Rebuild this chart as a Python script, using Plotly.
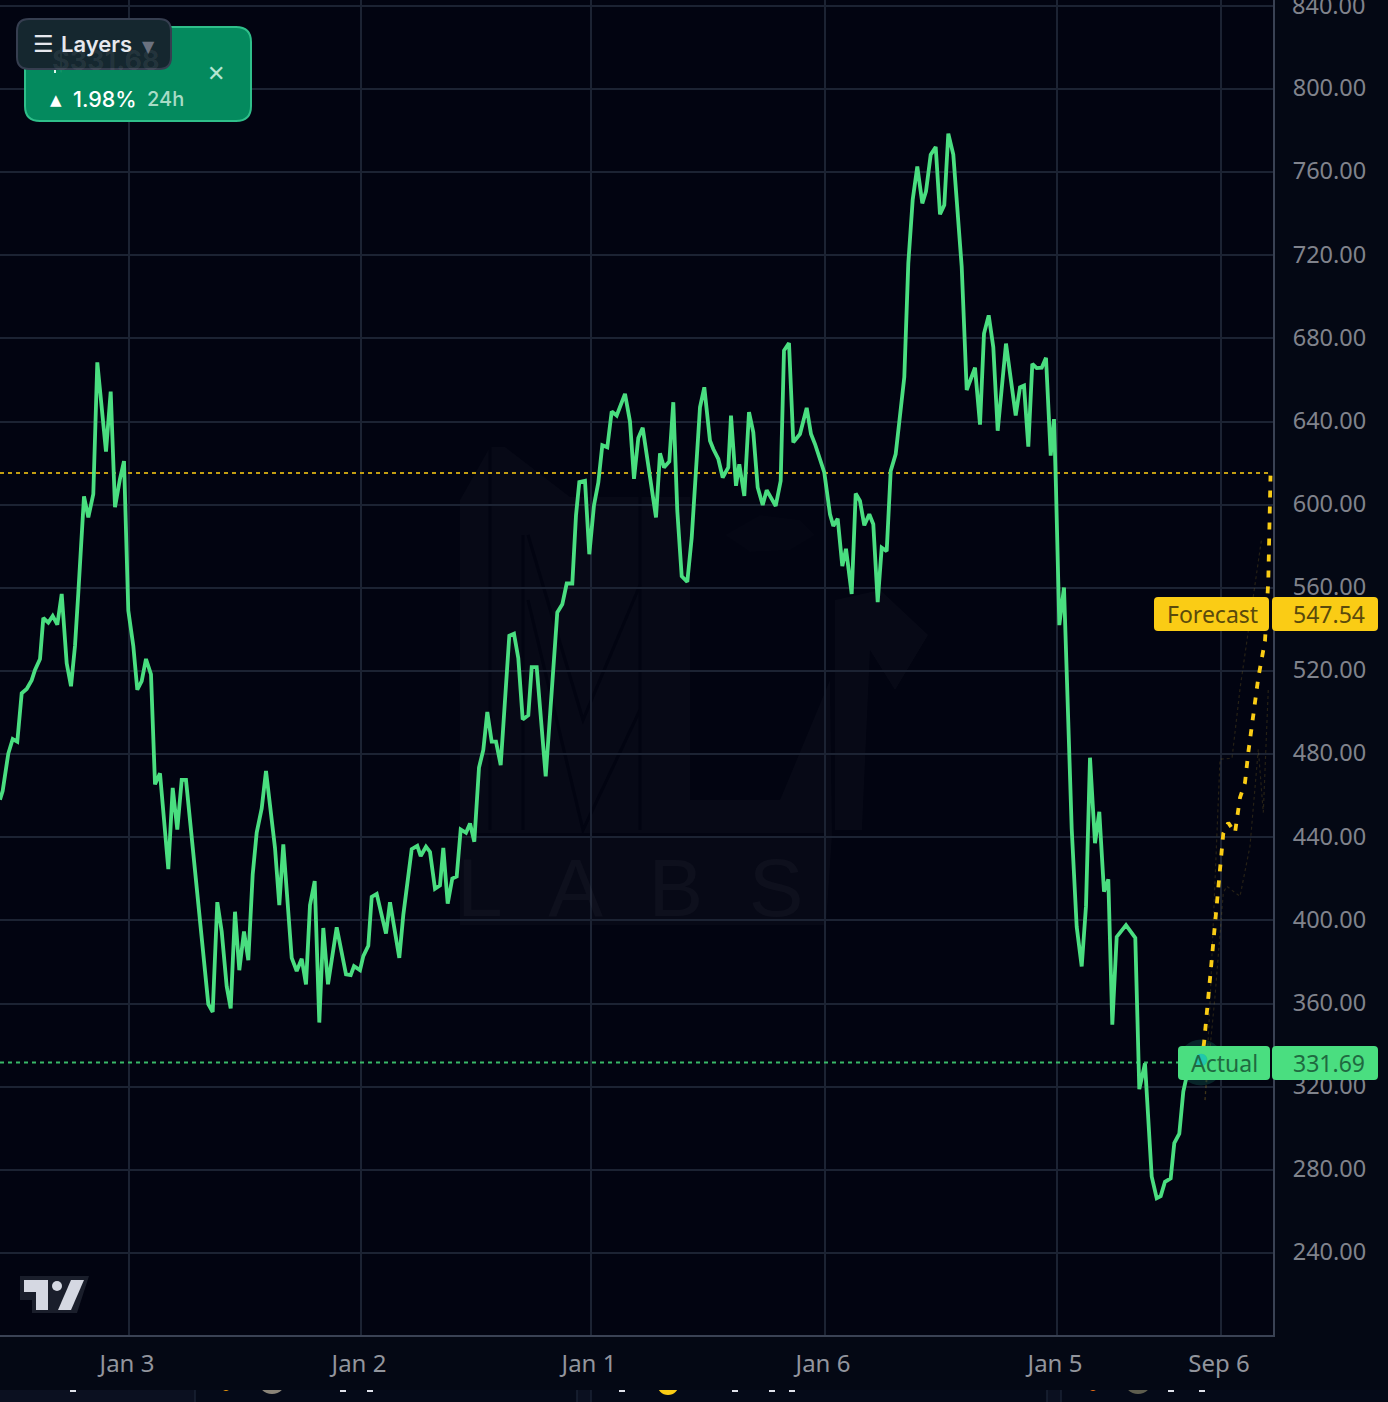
"""Forecast vs actual price chart, dark terminal style."""
import plotly.graph_objects as go

# bar position on the time axis, price at that bar
price_x = [
    0, 2.7, 8.3, 12.7, 17.3, 21.7, 26.7, 31.7, 35, 40, 43.3, 48.3, 52.7, 57.3, 61.7, 66.7, 71, 75, 78.3, 84,
    88.3, 93.3, 97.3, 101.7, 106, 110.7, 115, 120, 124, 128.3, 133.3, 137.3, 141.7, 146, 151, 155, 160, 168.3,
    172.7, 177.3, 181.7, 186, 200, 208.3, 212.7, 217.3, 221.7, 226.7, 230.7, 235, 239.3, 244, 248.3, 252.7,
    256.7, 261.7, 266, 275, 279.3, 283.3, 291.7, 296.7, 301.7, 306, 310, 314.7, 319.3, 323.3, 328,
    336.7, 346, 350.7, 354, 360, 363.3, 368.3, 371.7, 376.7, 386, 390, 399.3, 403.3, 411.7, 417.3, 420.7, 426,
    430, 435, 440, 443.3, 447.7, 452.3, 456.7, 460.7, 466, 470, 474.3, 479, 483.3, 487.3, 491.7, 496, 500.7,
    509.3, 514, 518.3, 522.7, 528.3, 531.7, 536.7, 545.7, 548.3, 557.3, 562.3, 566.7, 572.3, 576, 579.3, 585,
    589.3, 594, 598.3, 602.3, 607.3, 611.7, 616.7, 625, 630, 634, 638.3, 642.7, 656, 660,
    664, 669.3, 673.3, 677.3, 681.7, 687.3, 691.7, 700, 704.3, 710, 713.3, 718.3, 722.7, 728.3, 731, 736,
    739.3, 744.3, 749, 753.3, 757.7, 762.7, 766.7, 775.7, 780.7, 784, 789, 793.3, 800, 806.7, 811, 815, 824.3,
    830, 833.3, 837.7, 842.3, 846, 851.7, 855.7, 860, 864.3, 869.3, 873.3, 877.7, 881.7, 886.7, 890.7, 895.7,
    904.3, 908.3, 912.7, 917.3, 922.3, 926, 930.7, 935.7, 940, 944.3, 948.3, 953.3, 961.7, 966.7, 971, 975,
    980, 984, 988.7, 993.3, 997.7, 1006, 1015.7, 1020, 1024, 1028.3, 1032.3, 1036.7, 1041.7, 1046, 1050.7,
    1054, 1056, 1059.3, 1064, 1067.3, 1071.7, 1076.7, 1081.7, 1086, 1090, 1095, 1099.3, 1104, 1108.3, 1112.3,
    1116.7, 1126, 1135.3, 1139.3, 1145, 1151.7, 1156.7, 1160.7, 1165, 1170.7, 1174.3, 1179.3, 1183.3, 1186.7,
    1201,
]
price_y = [
    458.1, 462.4, 480.3, 487.3, 486.0, 509.3, 511.4, 515.6, 520.5, 525.8, 545.5, 543.3, 546.5, 542.3, 557.1,
    523.7, 512.7, 532.1, 557.5, 604.0, 593.9, 605.1, 668.5, 646.3, 625.6, 654.4, 598.8, 612.5, 621.0, 549.1,
    532.1, 511.0, 515.2, 525.8, 518.4, 465.5, 470.8, 424.7, 463.8, 443.7, 467.6, 467.6, 401.0, 359.8, 356.0,
    408.8, 394.7, 368.3, 357.7, 404.2, 376.1, 394.7, 380.9, 422.2, 442.3, 453.9, 471.9, 434.9, 407.4, 436.6,
    382.0, 375.7, 381.6, 369.3, 407.4, 419.0, 350.9, 396.4, 369.3,
    396.7, 374.1, 373.7, 378.0, 376.1, 382.9, 387.8, 411.4, 412.8, 393.7, 408.8, 382.0, 402.6, 434.3, 435.9,
    431.0, 435.5, 433.0, 415.3, 416.9, 434.9, 408.1, 420.2, 421.2, 443.8, 442.2, 446.7, 437.9, 473.6, 482.0,
    500.3, 486.0, 486.0, 474.8, 537.0, 538.0, 526.2, 496.7, 498.7, 521.9, 521.9, 469.3, 486.9, 548.2, 552.1,
    562.1, 562.1, 594.9, 610.9, 611.5, 576.2, 599.8, 610.6, 628.6, 627.6, 644.9, 642.9, 653.3, 640.0, 612.5,
    632.1, 637.0, 593.9, 624.7,
    617.9, 620.8, 649.3, 597.0, 565.6, 562.9, 584.1, 646.9, 656.5, 630.8, 626.8, 622.0, 613.1, 617.9, 642.9,
    609.1, 619.5, 604.2, 644.5, 634.8, 608.3, 599.9, 607.0, 599.4, 611.5, 674.2, 677.8, 630.0, 634.0, 646.6,
    634.0, 629.2, 615.5, 595.4, 589.8, 593.3, 570.5, 578.8, 557.1, 605.4, 601.8, 590.1, 595.4, 590.6, 553.1,
    579.3, 577.7, 616.3, 624.4, 661.4, 716.1, 746.7, 762.7, 745.0, 750.7, 768.4, 772.1, 739.7, 744.2, 778.5,
    768.4, 714.5, 655.2, 660.6, 665.9, 638.5, 682.3, 691.1, 675.8, 635.6, 677.5, 642.9, 656.5, 657.3, 627.9,
    667.8, 665.7, 665.9, 670.7, 623.6, 641.2, 607.8, 542.1, 560.2, 506.1, 444.1, 397.0, 377.9, 406.9, 478.3,
    437.2, 452.3, 413.9, 419.8, 349.9, 392.1, 397.8, 391.6, 318.9, 331.3, 276.8, 266.4, 267.4, 274.3, 276.0,
    292.9, 297.4, 317.7, 325.1, 331.69,
]

forecast_x = [1201, 1204, 1210, 1216, 1223.3, 1228.3, 1235, 1240, 1245, 1248.3, 1256.7, 1258.3, 1265, 1268.3, 1270.5]
forecast_y = [331.69, 340.9, 372, 403, 441.9, 447.0, 442.2, 459.1, 466.3, 480.8, 511.4, 516.8, 534.5, 563.6, 614]

band_upper_x = [1205, 1210, 1220, 1232, 1240, 1246.7, 1261.7]
band_upper_y = [313.6, 360, 477.6, 478, 511.4, 534.5, 584]
band_lower_x = [1205, 1215, 1223.3, 1226.7, 1240, 1250, 1258.3, 1263.3, 1268.3]
band_lower_y = [313.6, 363.4, 413.3, 416.5, 411.6, 435.8, 482.4, 451.9, 511.4]

x_ticks = [129, 361, 591, 825, 1057, 1221]
x_labels = ["Jan 3", "Jan 2", "Jan 1", "Jan 6", "Jan 5", "Sep 6"]
y_ticks = list(range(240, 841, 40))

actual_price = 331.69
actual_x = 1201
forecast_price = 547.54
forecast_level = 615.3

WIDTH = 1388
HEIGHT = 1402
PLOT_W = 1273
PLOT_H = 1335

BG = "#020411"
GRID = "#1c2333"
AXIS = "#3a4254"
GREEN = "#4ade80"
GOLD = "#facc15"
UI_FONT = "Inter, sans-serif"
AXIS_FONT = "Noto Sans, sans-serif"


def px(x):
    return x / PLOT_W


def py(y):
    return 1 - y / PLOT_H


def box(x0, y0, x1, y1, r, fill, line=None, line_width=0, layer="above"):
    # rounded rect on page pixels, as an svg path in paper coords
    rx, ry = r / PLOT_W, r / PLOT_H
    a, b, c, d = px(x0), py(y0), px(x1), py(y1)
    path = (
        f"M{a + rx},{b} L{c - rx},{b} Q{c},{b} {c},{b - ry} L{c},{d + ry} Q{c},{d} {c - rx},{d} "
        f"L{a + rx},{d} Q{a},{d} {a},{d + ry} L{a},{b - ry} Q{a},{b} {a + rx},{b} Z"
    )
    return dict(
        type="path", path=path, xref="paper", yref="paper", fillcolor=fill, layer=layer,
        line=dict(color=line or fill, width=line_width),
    )


def poly(points, fill, line=None, line_width=0, layer="below", closed=True):
    path = "M" + " L".join(f"{px(x)},{py(y)}" for x, y in points) + (" Z" if closed else "")
    return dict(
        type="path", path=path, xref="paper", yref="paper", fillcolor=fill if closed else None, layer=layer,
        line=dict(color=line or "rgba(0,0,0,0)", width=line_width),
    )


def disc(cx, cy, r, fill, layer="below"):
    return dict(
        type="circle", xref="paper", yref="paper", x0=px(cx - r), x1=px(cx + r), y0=py(cy + r), y1=py(cy - r),
        fillcolor=fill, layer=layer, line=dict(width=0),
    )


def label(x, y, text, size, color, family=UI_FONT, weight=400):
    return dict(
        x=px(x), y=py(y), xref="paper", yref="paper", text=text, showarrow=False,
        xanchor="center", yanchor="middle",
        font=dict(family=family, size=size, color=color, weight=weight),
    )


shapes = []

# watermark behind the chart
wm_light = "rgba(255,255,255,0.022)"
shapes.append(poly([(460, 500), (490, 447), (505, 447), (570, 497), (690, 497), (690, 800), (780, 800), (830, 680),
                    (832, 835), (826, 925), (460, 925)], wm_light))
shapes.append(poly([(835, 600), (880, 590), (928, 635), (895, 690), (870, 650), (862, 830), (835, 830)], wm_light))
shapes.append(poly([(725, 535), (760, 515), (800, 520), (815, 535), (790, 550), (750, 552)], "rgba(255,255,255,0.012)"))
shapes.append(poly([(528, 535), (583, 720), (640, 585)], None, line=BG, line_width=3, closed=False))
shapes.append(poly([(528, 600), (583, 830), (640, 710)], None, line=BG, line_width=3, closed=False))
shapes.append(poly([(490, 447), (490, 830)], None, line=BG, line_width=3, closed=False))
shapes.append(poly([(523, 535), (523, 830)], None, line=BG, line_width=3, closed=False))
shapes.append(poly([(640, 480), (640, 830)], None, line=BG, line_width=3, closed=False))
shapes.append(poly([(460, 835), (826, 835)], None, line=BG, line_width=4, closed=False))

# bottom strip with the cut off cards
shapes.append(box(-2, 1390, WIDTH + 2, HEIGHT + 8, 0, "#0b1020", layer="below"))
for left, right in [(195, 577), (591, 1047), (1061, 1394)]:
    shapes.append(box(left, 1378, right, 1412, 10, "#050a18", line="#1a2233", line_width=1.5, layer="below"))
shapes.append(disc(226, 1386, 5, "#f59e0b"))
shapes.append(disc(272, 1380, 14, "#8a8478"))
shapes.append(disc(668, 1384, 11, "#facc15"))
shapes.append(disc(1093, 1386, 5, "#f97316"))
shapes.append(disc(1138, 1380, 14, "#5e5d4e"))
for cx in [73, 343, 370, 622, 735, 772, 792, 1171, 1202]:
    shapes.append(box(cx - 3, 1389, cx + 3, 1392, 0, "#dfe2ea", layer="below"))
shapes.append(box(-2, 1336, WIDTH + 2, 1390, 0, "#040814", layer="below"))

# tradingview mark
shapes.append(poly([(20, 1276), (89, 1276), (77, 1313), (32, 1313), (32, 1300), (20, 1300)], "#1a1e2b", layer="above"))
shapes.append(poly([(24, 1280), (48, 1280), (48, 1310), (36, 1310), (36, 1292), (24, 1292)], "#d5d8e2", layer="above"))
shapes.append(poly([(71, 1280), (84, 1280), (71, 1310), (58, 1310)], "#d5d8e2", layer="above"))
shapes.append(disc(57, 1286, 5, "#d5d8e2", layer="above"))

# price tags on the right edge
shapes.append(box(1154, 597, 1269, 631, 4, GOLD))
shapes.append(box(1272, 597, 1378, 631, 4, GOLD))
shapes.append(box(1178, 1046, 1270, 1080, 4, GREEN))
shapes.append(box(1272, 1046, 1378, 1080, 4, GREEN))

# top left cards
shapes.append(box(25, 27, 251, 121, 15, "#048a5e", line="#2fbf8a", line_width=2))
shapes.append(box(54, 69, 56, 73, 0, "#d9f5ea"))
shapes.append(box(17, 19, 171, 69, 12, "#15272f", line="#363e50", line_width=2))

annotations = [
    label(1212, 614, "Forecast", 23, "#5a4a0c", AXIS_FONT),
    label(1328.5, 614, f"{forecast_price:.2f}", 23, "#5a4a0c", AXIS_FONT),
    dict(x=actual_x, y=actual_price, xref="x", yref="y", yshift=4, text="●", showarrow=False,
         font=dict(family="DejaVu Sans", size=16, color="#22c7ac")),
    label(1224, 1063, "Actual", 23, "#1f6a40", AXIS_FONT),
    label(1328.5, 1063, f"{actual_price:.2f}", 23, "#1f6a40", AXIS_FONT),
    label(1328.5, 5, f"{y_ticks[-1]:.2f}", 23.5, "#80838c", AXIS_FONT),
    label(630, 887, "L\u00a0\u00a0A\u00a0\u00a0B\u00a0\u00a0S", 82, "rgba(255,255,255,0.03)", "Liberation Sans", 400),
    label(106, 60, "$331.68", 27, "rgba(255,255,255,0.08)", UI_FONT, 700),
    label(44, 44, "☰", 23, "#e6e8ee", "DejaVu Sans", 700),
    label(96, 44, "Layers", 22, "#e6e8ee", UI_FONT, 600),
    label(148, 46, "▼", 16, "#6b7280", "DejaVu Sans"),
    label(56, 100, "▲", 15, "#ffffff", "DejaVu Sans"),
    label(105, 99, "1.98%", 21.5, "#ffffff", UI_FONT, 500),
    label(165, 99, "24h", 20, "#a8dcc6", UI_FONT, 500),
    label(216, 73, "✕", 22, "#b5e5d2", "DejaVu Sans"),
]

fig = go.Figure()

fig.add_trace(go.Scatter(
    x=band_upper_x, y=band_upper_y, mode="lines", hoverinfo="skip",
    line=dict(color="rgba(170,135,40,0.22)", width=1.2, dash="dot"),
))
fig.add_trace(go.Scatter(
    x=band_lower_x, y=band_lower_y, mode="lines", hoverinfo="skip",
    line=dict(color="rgba(170,135,40,0.22)", width=1.2, dash="dot"),
))
fig.add_trace(go.Scatter(
    x=[0, 1270], y=[forecast_level, forecast_level], mode="lines", hoverinfo="skip",
    line=dict(color="#c39e12", width=2, dash="4px,4px"),
))
fig.add_trace(go.Scatter(
    x=[0, 1178], y=[actual_price, actual_price], mode="lines", hoverinfo="skip",
    line=dict(color="#38b868", width=2, dash="4px,4px"),
))
fig.add_trace(go.Scatter(
    x=[actual_x], y=[actual_price], mode="markers", hoverinfo="skip",
    marker=dict(size=46, color="rgba(45,212,170,0.16)", line=dict(width=0)),
))
fig.add_trace(go.Scatter(
    x=price_x, y=price_y, mode="lines", hoverinfo="skip",
    line=dict(color=GREEN, width=3.8),
))
fig.add_trace(go.Scatter(
    x=forecast_x, y=forecast_y, mode="lines", hoverinfo="skip",
    line=dict(color=GOLD, width=3.8, dash="7px,9px"),
))

fig.update_layout(
    width=WIDTH,
    height=HEIGHT,
    margin=dict(l=0, r=WIDTH - PLOT_W, t=0, b=HEIGHT - PLOT_H, autoexpand=False),
    paper_bgcolor="#040814",
    plot_bgcolor=BG,
    showlegend=False,
    shapes=shapes,
    annotations=annotations,
)
fig.update_xaxes(
    range=[0, PLOT_W],
    tickvals=x_ticks,
    ticktext=x_labels,
    ticks="outside",
    ticklen=6,
    tickcolor="rgba(0,0,0,0)",
    ticklabelshift=-2,
    tickfont=dict(family=AXIS_FONT, size=24, color="#92959d"),
    showgrid=True,
    gridcolor=GRID,
    gridwidth=2,
    zeroline=False,
    showline=True,
    linecolor=AXIS,
    linewidth=2,
)
fig.update_yaxes(
    range=[200.6, 842.8],
    side="right",
    tickvals=y_ticks,
    tickformat=".2f",
    ticks="outside",
    ticklen=13,
    tickcolor="rgba(0,0,0,0)",
    ticklabelshift=-1,
    tickfont=dict(family=AXIS_FONT, size=23.5, color="#80838c"),
    showgrid=True,
    gridcolor=GRID,
    gridwidth=2,
    zeroline=False,
    showline=True,
    linecolor=AXIS,
    linewidth=2,
)

fig.write_html("out.html", config=dict(displayModeBar=False), post_script="document.body.style.margin='0';")
